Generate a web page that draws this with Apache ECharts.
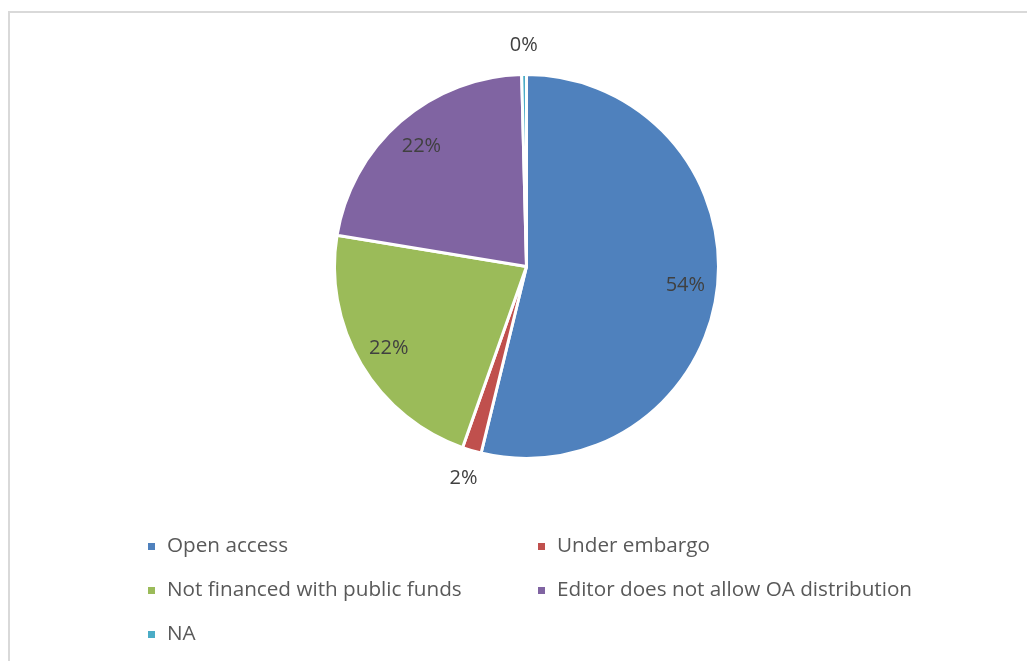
<!DOCTYPE html>
<html>
<head>
<meta charset="utf-8">
<script src="https://cdn.jsdelivr.net/npm/echarts@6/dist/echarts.min.js"></script>
<style>
  html, body { margin: 0; padding: 0; background: #ffffff; overflow: hidden; }
  #frame { position: absolute; left: 8px; top: 11px; width: 2000px; height: 2000px;
           border-left: 2px solid #d9d9d9; border-top: 2px solid #d9d9d9; }
  #chart { position: absolute; left: 0; top: 0; width: 1027px; height: 661px; }
</style>
</head>
<body>
<div id="frame"></div>
<div id="chart"></div>
<script>
// Publication status shares
const categories = [
  'Open access',
  'Under embargo',
  'Not financed with public funds',
  'Editor does not allow OA distribution',
  'NA'
];
const shares = [53.8, 1.6, 22.2, 22.0, 0.4];
const colors = ['#4f81bd', '#c0504d', '#9bbb59', '#8064a2', '#4bacc6'];

// which slices carry their label inside the pie, which ones just outside
const insideLabel = [true, false, true, true, false];

const FONT = '"Open Sans", "Liberation Sans", sans-serif';
const center = [526.5, 266.5];
const R = 192;

const pct = p => Math.round(p.percent) + '%';

const mainData = categories.map((name, i) => ({
  name, value: shares[i], itemStyle: { color: colors[i] }
}));

function labelData(show) {
  return categories.map((name, i) => ({
    name, value: shares[i],
    label: { show: show[i] }
  }));
}

const labelSeriesBase = {
  type: 'pie',
  center: center,
  startAngle: 90,
  clockwise: true,
  silent: true,
  animation: false,
  itemStyle: { color: 'rgba(0,0,0,0)', borderWidth: 0 },
  emphasis: { disabled: true },
  labelLine: { show: false },
  label: {
    position: 'inside',
    formatter: pct,
    fontFamily: FONT,
    fontSize: 20,
    color: '#404040'
  }
};

const legendBase = {
  orient: 'vertical',
  top: 531,
  itemWidth: 21, itemHeight: 9, itemGap: 23,
  icon: 'path://M0,0H10V10H0Z',
  selectedMode: false,
  textStyle: { fontFamily: FONT, fontSize: 20.7, color: '#595959', lineHeight: 20 }
};

const chart = echarts.init(document.getElementById('chart'), null, { renderer: 'canvas' });
chart.setOption({
  backgroundColor: 'transparent',
  animation: false,
  legend: [
    Object.assign({}, legendBase, {
      left: 141,
      data: [categories[0], categories[2], categories[4]]
    }),
    Object.assign({}, legendBase, {
      left: 531,
      data: [categories[1], categories[3]]
    })
  ],
  series: [
    {
      type: 'pie',
      center: center,
      radius: [0, R],
      startAngle: 90,
      clockwise: true,
      animation: false,
      label: { show: false },
      labelLine: { show: false },
      emphasis: { disabled: true },
      itemStyle: { borderColor: '#ffffff', borderWidth: 3 },
      data: mainData
    },
    Object.assign({}, labelSeriesBase, {
      radius: [122, R],
      data: labelData(insideLabel)
    }),
    Object.assign({}, labelSeriesBase, {
      radius: [200, 236],
      data: labelData(insideLabel.map(v => !v))
    })
  ]
});
</script>
</body>
</html>
